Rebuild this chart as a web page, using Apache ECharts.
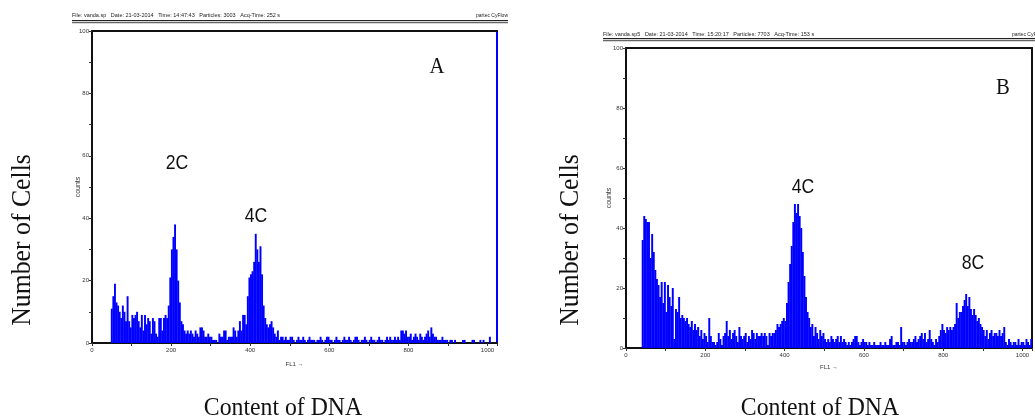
<!DOCTYPE html>
<html><head><meta charset="utf-8">
<script src="https://cdn.jsdelivr.net/npm/echarts@6/dist/echarts.min.js"></script>
<style>html,body{margin:0;padding:0;background:#fff}#c{width:1035px;height:417px}</style>
</head><body><div id="c"></div>
<script>
// ---- data: DNA histograms (counts per 4-channel bin of FL1, channels 0..1023) ----
const BIN_WIDTH = 4;
const countsA = [
  0,0,0,0,0,0,0,0,0,0,0,0,11,15,19,13,12,10,8,12,
  10,7,15,7,5,9,8,9,10,7,5,9,4,9,6,8,7,3,8,7,
  3,2,8,8,4,8,9,8,12,21,30,34,38,30,20,13,7,6,4,3,
  4,3,4,3,2,4,3,2,5,5,4,2,2,3,2,2,1,1,1,0,
  3,2,2,4,4,1,2,2,2,5,4,2,4,7,4,9,9,6,15,21,
  22,23,26,35,30,26,31,22,12,8,6,5,6,7,5,3,2,4,1,2,
  2,1,2,1,1,2,2,1,0,1,2,1,1,2,1,0,1,2,1,1,
  1,0,1,1,2,1,0,1,2,2,1,1,0,1,2,1,1,0,1,2,
  1,1,2,1,0,1,2,2,1,0,1,1,2,1,0,1,2,1,1,0,
  1,2,1,1,0,1,2,1,2,1,1,2,1,2,1,4,4,3,4,2,
  2,3,1,2,3,2,1,3,2,1,2,3,4,2,5,3,2,2,1,1,
  1,2,1,1,1,0,1,1,0,1,0,0,0,0,1,1,0,0,0,0,
  1,1,0,0,0,1,0,1,0,0,0,2,0,0,0,0
];
const countsB = [
  0,0,0,0,0,0,0,0,0,0,36,44,43,42,42,30,38,32,26,23,
  21,17,22,15,22,12,21,17,14,20,3,13,12,17,10,11,10,9,10,8,
  7,9,6,8,6,7,4,6,3,5,4,2,10,4,2,2,1,2,5,3,
  1,4,5,9,4,6,3,5,6,4,2,7,4,3,4,5,2,4,3,6,
  5,3,5,4,4,5,4,5,4,1,5,4,5,5,6,8,7,8,9,10,
  9,15,22,28,34,42,48,45,48,44,40,32,24,17,12,10,7,8,4,7,
  5,3,6,4,5,3,2,3,2,4,3,2,3,4,2,4,2,3,2,1,
  2,1,2,3,4,4,2,1,2,3,2,2,1,2,1,1,2,1,1,1,
  2,1,1,2,1,1,3,4,1,1,2,2,1,7,2,2,1,2,3,2,
  2,3,4,2,3,4,5,3,5,2,3,6,3,2,1,3,2,4,6,8,
  6,5,7,6,7,6,7,8,15,10,12,12,14,16,18,14,17,13,11,13,
  11,9,10,8,7,6,4,6,3,5,6,4,5,5,4,6,4,5,7,2,
  1,3,2,1,2,2,1,3,1,2,2,1,3,2,1,3
];
const xTickLabels = [0, 200, 400, 600, 800, 1000];
const yTickLabels = [0, 20, 40, 60, 80, 100];
const panelLetters = ['A', 'B'];
const peakLabelsA = ['2C', '4C'];
const peakLabelsB = ['4C', '8C'];
const headerA = 'File: vanda.sp   Date: 21-03-2014   Time: 14:47:43   Particles: 3003   Acq-Time: 252 s';
const headerB = 'File: vanda.sp5   Date: 21-03-2014   Time: 15:20:17   Particles: 7703   Acq-Time: 153 s';
const brandText = 'partec CyFlow';
const yTitle = 'Number of Cells';
const xTitle = 'Content of DNA';
const axisNameX = 'FL1 \u2192';
const axisNameY = 'counts';

// ---- layout ----
const G = [
  {left: 92, top: 31, width: 405, height: 312, rightColor: '#0000ff'},
  {left: 626, top: 48, width: 409, height: 300, rightColor: '#111'}
];
const X_MAX = 1024;
const chart = echarts.init(document.getElementById('c'), null, {renderer: 'canvas'});
const toData = arr => arr.map((v, i) => [i * BIN_WIDTH + BIN_WIDTH / 2, v]);

function mainX(gi, nameGap) {
  return {
    type: 'value', gridIndex: gi, min: 0, max: X_MAX, interval: 100, position: 'bottom',
    name: axisNameX, nameLocation: 'middle', nameGap: nameGap, nameMoveOverlap: false,
    nameTextStyle: {fontSize: 6, color: '#333', fontFamily: 'Liberation Sans'},
    axisLine: {show: true, onZero: false, lineStyle: {color: '#111', width: 2}},
    axisTick: {show: true, length: 3, inside: false, lineStyle: {color: '#333', width: 1}},
    axisLabel: {fontSize: 6, color: '#333', margin: 4, fontFamily: 'Liberation Sans',
      formatter: v => xTickLabels.indexOf(v) >= 0 ? String(v) : ''},
    splitLine: {show: false}
  };
}
function mainY(gi, nameGap) {
  return {
    type: 'value', gridIndex: gi, min: 0, max: 100, interval: 10, position: 'left',
    name: axisNameY, nameLocation: 'middle', nameGap: nameGap, nameRotate: 90, nameMoveOverlap: false,
    nameTextStyle: {fontSize: 7, color: '#333', fontFamily: 'Liberation Sans'},
    axisLine: {show: true, onZero: false, lineStyle: {color: '#111', width: 2}},
    axisTick: {show: true, length: 3, lineStyle: {color: '#333', width: 1}},
    axisLabel: {fontSize: 6, color: '#333', margin: 3, fontFamily: 'Liberation Sans',
      formatter: v => yTickLabels.indexOf(v) >= 0 ? String(v) : ''},
    splitLine: {show: false}
  };
}
function frameX(gi) {
  return {type: 'value', gridIndex: gi, min: 0, max: X_MAX, position: 'top',
    axisLine: {show: true, onZero: false, lineStyle: {color: '#111', width: 2}},
    axisTick: {show: false}, axisLabel: {show: false}, splitLine: {show: false}};
}
function frameY(gi, color) {
  return {type: 'value', gridIndex: gi, min: 0, max: 100, position: 'right',
    axisLine: {show: true, onZero: false, lineStyle: {color: color, width: 2}},
    axisTick: {show: false}, axisLabel: {show: false}, splitLine: {show: false}};
}

const serif = "'Liberation Serif', 'Times New Roman', serif";
const narrow = "'Liberation Sans', Arial, sans-serif";
function txt(x, y, text, size, family, opts) {
  return Object.assign({type: 'text', x: x, y: y, silent: true,
    style: Object.assign({text: text, fontSize: size, fontFamily: family, fill: '#111',
      textAlign: 'center', textVerticalAlign: 'middle'}, (opts && opts.style) || {})},
    (opts && opts.el) || {});
}

const graphics = [
  // headers
  txt(72, 15, headerA, 5.5, 'Liberation Sans', {style: {textAlign: 'left', fill: '#222'}}),
  txt(508, 16, brandText, 5, 'Liberation Sans', {style: {textAlign: 'right', fill: '#222'}}),
  {type: 'line', shape: {x1: 72, y1: 20.5, x2: 508, y2: 20.5}, style: {stroke: '#222', lineWidth: 1}},
  {type: 'line', shape: {x1: 72, y1: 22.5, x2: 508, y2: 22.5}, style: {stroke: '#666', lineWidth: 1.5}},
  txt(603, 34, headerB, 5.5, 'Liberation Sans', {style: {textAlign: 'left', fill: '#222'}}),
  txt(1012, 35, brandText, 5, 'Liberation Sans', {style: {textAlign: 'left', fill: '#222'}}),
  {type: 'line', shape: {x1: 603, y1: 38.5, x2: 1035, y2: 38.5}, style: {stroke: '#222', lineWidth: 1}},
  {type: 'line', shape: {x1: 603, y1: 40.5, x2: 1035, y2: 40.5}, style: {stroke: '#666', lineWidth: 1.5}},
  // big titles
  txt(22.5, 240, yTitle, 28, serif, {el: {rotation: Math.PI / 2, scaleX: 0.92}}),
  txt(571, 240, yTitle, 28, serif, {el: {rotation: Math.PI / 2, scaleX: 0.92}}),
  txt(283, 408, xTitle, 25, serif, {el: {scaleX: 0.95}}),
  txt(820, 408, xTitle, 25, serif, {el: {scaleX: 0.95}}),
  // annotations
  txt(437, 67, panelLetters[0], 23, serif, {el: {scaleX: 0.9}}),
  txt(1003, 88, panelLetters[1], 23, serif, {el: {scaleX: 0.9}}),
  txt(177, 163, peakLabelsA[0], 21, narrow, {el: {scaleX: 0.84}}),
  txt(256, 216, peakLabelsA[1], 21, narrow, {el: {scaleX: 0.84}}),
  txt(803, 187, peakLabelsB[0], 21, narrow, {el: {scaleX: 0.84}}),
  txt(973, 263, peakLabelsB[1], 21, narrow, {el: {scaleX: 0.84}})
];

const barPx = gi => G[gi].width * BIN_WIDTH / X_MAX + 0.35;

chart.setOption({
  animation: false,
  backgroundColor: '#fff',
  grid: G.map(g => ({left: g.left, top: g.top, width: g.width, height: g.height, show: false, containLabel: false})),
  xAxis: [mainX(0, 18), frameX(0), mainX(1, 16), frameX(1)],
  yAxis: [mainY(0, 10), frameY(0, G[0].rightColor), mainY(1, 13), frameY(1, G[1].rightColor)],
  series: [
    {type: 'bar', xAxisIndex: 0, yAxisIndex: 0, data: toData(countsA), barWidth: barPx(0),
     itemStyle: {color: '#0000ff'}, silent: true, large: false},
    {type: 'bar', xAxisIndex: 2, yAxisIndex: 2, data: toData(countsB), barWidth: barPx(1),
     itemStyle: {color: '#0000ff'}, silent: true, large: false}
  ],
  graphic: graphics
});
</script>
</body></html>
